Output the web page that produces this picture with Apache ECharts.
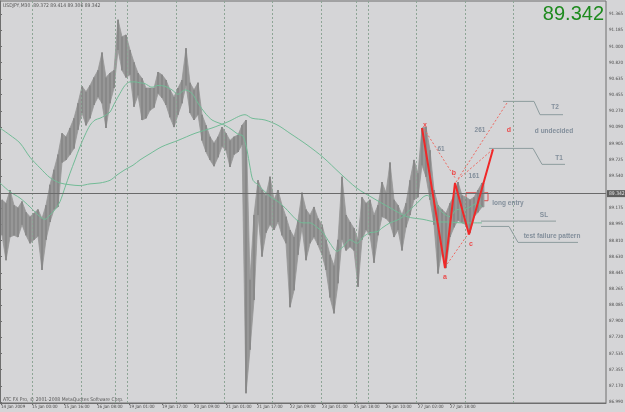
<!DOCTYPE html>
<html>
<head>
<meta charset="utf-8">
<script src="https://cdn.jsdelivr.net/npm/echarts@6/dist/echarts.min.js"></script>
<style>
  html, body { margin: 0; padding: 0; background: #d5d5d7; }
  #chart { width: 625px; height: 412px; }
</style>
</head>
<body>
<div id="chart"></div>
<script>
// USDJPY M30, x = bar number (one bar per pixel), sampled every 4 bars
const barX = [];
for (let i = 0; i <= 480; i += 4) barX.push(i);
const barHigh = [
  89.27, 89.23, 89.38, 89.21, 89.18, 89.25, 89.13, 89.08, 89.12, 89.16,
  89.06, 89.21, 89.44, 89.61, 89.78, 90.02, 89.98, 90.08, 90.19, 90.36,
  90.55, 90.49, 90.56, 90.65, 90.73, 90.93, 90.65, 90.70, 90.73, 91.30,
  91.11, 91.13, 90.96, 90.82, 90.70, 90.64, 90.53, 90.53, 90.53, 90.71,
  90.68, 90.62, 90.51, 90.43, 90.53, 90.62, 90.98, 90.59, 90.51, 90.59,
  90.23, 90.11, 89.98, 89.91, 89.98, 90.09, 90.02, 89.94, 89.98, 90.00,
  90.11, 90.17, 88.37, 89.10, 89.49, 89.38, 89.32, 89.53, 89.27, 89.38,
  89.21, 89.08, 88.93, 88.85, 89.04, 89.35, 89.16, 89.10, 89.19, 89.06,
  88.99, 88.82, 88.65, 88.53, 88.82, 89.53, 89.10, 89.02, 88.95, 88.82,
  89.30, 89.23, 89.27, 89.10, 89.21, 89.47, 89.35, 89.69, 89.27, 89.21,
  89.10, 89.23, 89.49, 89.72, 89.57, 90.08, 90.09, 89.83, 89.38, 89.21,
  89.16, 89.12, 89.23, 89.32, 89.47, 89.32, 89.30, 89.27, 89.30, 89.38,
  89.46
];
const barLow = [
  88.87, 88.59, 88.85, 88.87, 88.85, 88.99, 88.87, 88.78, 88.82, 88.86,
  88.48, 88.82, 89.02, 89.16, 89.19, 89.69, 89.72, 89.78, 89.85, 90.06,
  90.25, 90.11, 90.19, 90.34, 90.43, 90.36, 90.08, 90.36, 90.53, 90.96,
  90.73, 90.65, 90.68, 90.32, 90.45, 90.17, 90.19, 90.28, 90.31, 90.47,
  90.42, 90.34, 90.20, 90.09, 90.23, 90.36, 90.56, 90.25, 90.17, 90.23,
  89.94, 89.81, 89.72, 89.65, 89.75, 89.87, 89.83, 89.64, 89.78, 89.81,
  89.89, 87.09, 87.58, 88.14, 89.10, 88.63, 88.90, 88.99, 88.93, 89.02,
  88.87, 88.78, 88.06, 88.25, 88.65, 88.96, 88.59, 88.78, 88.85, 88.76,
  88.65, 88.48, 88.17, 87.99, 88.33, 88.82, 88.70, 88.74, 88.70, 88.29,
  88.82, 88.93, 88.87, 88.56, 88.87, 89.08, 89.06, 89.01, 88.85, 88.93,
  88.70, 88.96, 89.10, 89.27, 89.30, 89.66, 89.53, 89.27, 88.99, 88.44,
  88.70, 88.50, 88.85, 88.96, 89.04, 89.01, 88.99, 88.90, 89.08, 89.13,
  89.19
];

// moving averages
const fastMaBars = [0, 10, 20, 30, 40, 45, 50, 55, 60, 65, 70, 75, 80, 85, 90, 95, 100, 105, 110, 115,
  120, 125, 130, 135, 140, 145, 152, 158, 165, 172, 178, 185, 192, 198, 205, 212, 218, 225, 232, 238,
  243, 247, 250, 253, 258, 265, 272, 278, 285, 290, 297, 303, 310, 317, 323, 330, 337, 343, 350, 357,
  363, 370, 377, 383, 390, 397, 403, 410, 417, 423, 427, 430, 437, 443, 450, 457, 463, 470, 477, 482];
const fastMa = [89.46, 89.36, 89.29, 89.19, 89.08, 89.05, 89.10, 89.16, 89.25, 89.41, 89.57, 89.72, 89.87, 90.00, 90.11, 90.17, 90.19, 90.22, 90.26, 90.37,
  90.47, 90.56, 90.60, 90.60, 90.59, 90.58, 90.54, 90.56, 90.55, 90.51, 90.46, 90.51, 90.47, 90.36, 90.25, 90.17, 90.14, 90.11, 90.06, 90.01,
  89.99, 89.83, 89.64, 89.49, 89.44, 89.36, 89.29, 89.25, 89.18, 89.12, 89.04, 89.01, 89.01, 88.96, 88.90, 88.78, 88.69, 88.74, 88.82, 88.78,
  88.85, 88.90, 88.91, 88.96, 89.01, 89.04, 89.08, 89.16, 89.23, 89.30, 89.32, 89.30, 89.21, 89.12, 89.08, 89.16, 89.16, 89.19, 89.23, 89.19];
const slowMaBars = [0, 10, 20, 30, 40, 50, 60, 70, 80, 90, 100, 110, 117, 125, 133, 140, 150, 162, 178, 195,
  212, 228, 245, 252, 265, 278, 290, 307, 323, 340, 357, 373, 390, 407, 423, 437, 447, 463, 482];
const slowMa = [90.08, 90.00, 89.91, 89.75, 89.63, 89.52, 89.46, 89.44, 89.43, 89.45, 89.46, 89.49, 89.55, 89.61, 89.66, 89.72, 89.79, 89.87, 89.94, 90.02,
  90.08, 90.15, 90.23, 90.19, 90.17, 90.11, 90.02, 89.89, 89.75, 89.57, 89.40, 89.29, 89.18, 89.08, 89.05, 89.02, 89.02, 89.01, 89.01];

// day separators (bar numbers) and time axis
const daySeparators = [32, 81, 115, 127, 176, 224, 272, 321, 356, 368, 416, 465, 513];
const timeTickBars = [1, 32, 64, 97, 129, 162, 194, 226, 257, 290, 322, 354, 386, 418, 450];
const timeTickLabels = ['14 Jan 2009', '15 Jan 00:00', '15 Jan 16:00', '16 Jan 08:00', '19 Jan 01:00',
  '19 Jan 17:00', '20 Jan 09:00', '21 Jan 01:00', '21 Jan 17:00', '22 Jan 09:00', '23 Jan 01:00',
  '25 Jan 18:00', '26 Jan 10:00', '27 Jan 02:00', '27 Jan 18:00'];
const priceTicks = [86.990, 87.170, 87.355, 87.535, 87.720, 87.900, 88.085, 88.265, 88.445, 88.630,
  88.810, 88.995, 89.175, 89.540, 89.725, 89.905, 90.090, 90.270, 90.455, 90.635, 90.820, 91.000,
  91.185, 91.365];
const lastPrice = 89.342;

// harmonic pattern x-a-b-c-d
const patternBars = [422, 445, 455, 469, 493];
const patternPrices = [90.08, 88.50, 89.46, 88.88, 89.84];
const patternNames = ['x', 'a', 'b', 'c', 'd'];
const patternLabelBars = [425, 445, 454, 471, 509];
const patternLabelPrices = [90.11, 88.40, 89.57, 88.77, 90.06];
// dotted ratio lines: [bar1, price1, bar2, price2]
const ratioLines = [
  [424, 90.07, 455, 89.52],
  [445, 88.51, 469, 88.90],
  [456, 89.47, 508, 90.38],
  [458, 89.50, 494, 89.85]
];
const ratioNames = ['61', '161', '261'];
const ratioBars = [441, 474, 480];
const ratioPrices = [89.84, 89.54, 90.05];

// hand drawn trend lines and notes
const t2Line = [[503, 90.38], [534, 90.38], [540, 90.23], [563, 90.23]];
const t1Line = [[489, 89.85], [533, 89.85], [542, 89.67], [565, 89.67]];
const slLine = [[481, 89.03], [556, 89.03]];
const failLine = [[481, 88.97], [509, 88.97], [518, 88.79], [578, 88.79]];
const entryBox = [[466, 89.35], [488, 89.26]];
const noteNames = ['T2', 'd undecided', 'T1', 'long entry', 'SL', 'test failure pattern'];
const noteBars = [555, 554, 559, 508, 544, 552];
const notePrices = [90.31, 90.04, 89.74, 89.23, 89.10, 88.86];

const smallFont = "'Liberation Sans Narrow', 'DejaVu Sans Condensed', 'Liberation Sans', sans-serif";
const noteColor = '#6e7d8c';
const red = '#f02828';
const bandGray = '#979797';
const barGray = '#858585';

const chart = echarts.init(document.getElementById('chart'));

const lineSeries = (data, color, width, type) => ({
  type: 'line',
  data: data,
  symbol: 'none',
  silent: true,
  z: 4,
  lineStyle: { color: color, width: width, type: type || 'solid' }
});

const series = [
  {
    type: 'line',
    data: [],
    z: 1,
    silent: true,
    markLine: {
      symbol: ['none', 'none'],
      silent: true,
      animation: false,
      label: { show: false },
      lineStyle: { color: '#8ea596', type: [2, 2], width: 1 },
      data: daySeparators.map(b => ({ xAxis: b }))
    }
  },
  {
    // high-low band, each sample joined to the next, plus the sample's own bar
    type: 'custom',
    z: 2,
    silent: true,
    data: barX.map((x, i) => [x, barLow[i], barHigh[i]]),
    encode: { x: 0, y: [1, 2] },
    renderItem: function (params, api) {
      const i = params.dataIndex;
      const j = Math.min(i + 1, barX.length - 1);
      const x1 = barX[i] + 2;
      const x2 = j === i ? x1 + 2 : barX[j] + 2;
      const top = api.coord([x1, barHigh[i]]);
      const bottom = api.coord([x1, barLow[i]]);
      return {
        type: 'group',
        children: [
          {
            type: 'polygon',
            shape: {
              points: [top, api.coord([x2, barHigh[j]]), api.coord([x2, barLow[j]]), bottom]
            },
            style: { fill: bandGray, stroke: bandGray, lineWidth: 0.8 }
          },
          {
            type: 'line',
            shape: { x1: top[0], y1: top[1], x2: bottom[0], y2: bottom[1] },
            style: { stroke: barGray, lineWidth: 1.5 }
          }
        ]
      };
    }
  },
  Object.assign(lineSeries(fastMaBars.map((b, i) => [b, fastMa[i]]), '#72bb96', 1), { smooth: 0.3, z: 3 }),
  Object.assign(lineSeries(slowMaBars.map((b, i) => [b, slowMa[i]]), '#72bb96', 1), { smooth: 0.3, z: 3 }),
  {
    type: 'line',
    data: [],
    z: 3,
    silent: true,
    markLine: {
      symbol: ['none', 'none'],
      silent: true,
      animation: false,
      lineStyle: { color: '#6a6a6a', type: 'solid', width: 1 },
      label: {
        show: true,
        position: 'end',
        distance: 1,
        formatter: () => lastPrice.toFixed(3),
        backgroundColor: '#5e5e5e',
        color: '#e0e0e0',
        fontSize: 5,
        fontFamily: smallFont,
        padding: [1, 2]
      },
      data: [{ yAxis: lastPrice }]
    }
  }
];

ratioLines.forEach(l => {
  series.push(lineSeries([[l[0], l[1]], [l[2], l[3]]], '#ee6a62', 1, [2, 2]));
});
[t2Line, t1Line, slLine, failLine].forEach(l => {
  series.push(lineSeries(l, '#8d9c9e', 1));
});

const pattern = lineSeries(patternBars.map((b, i) => [b, patternPrices[i]]), red, 2);
pattern.z = 5;
pattern.markArea = {
  silent: true,
  itemStyle: { color: 'rgba(0,0,0,0)', borderColor: '#e05050', borderWidth: 1 },
  data: [[{ coord: entryBox[0] }, { coord: entryBox[1] }]]
};
series.push(pattern);

const textSeries = (names, bars, prices, color, size) => ({
  type: 'scatter',
  silent: true,
  z: 6,
  symbolSize: 1,
  itemStyle: { color: 'rgba(0,0,0,0)' },
  data: names.map((n, i) => ({ name: n, value: [bars[i], prices[i]] })),
  label: {
    show: true,
    position: 'inside',
    formatter: p => p.name,
    color: color,
    fontSize: size,
    fontWeight: 'bold',
    fontFamily: 'Liberation Sans, Arial, sans-serif'
  }
});
series.push(textSeries(patternNames, patternLabelBars, patternLabelPrices, red, 7));
series.push(textSeries(ratioNames, ratioBars, ratioPrices, noteColor, 6.5));
series.push(textSeries(noteNames, noteBars, notePrices, noteColor, 6.5));

chart.setOption({
  animation: false,
  backgroundColor: '#d5d5d7',
  title: [
    {
      text: 'USDJPY,M30  89.372 89.414 89.306 89.342',
      left: 3, top: 3, padding: 0,
      textStyle: { fontSize: 5, fontWeight: 'normal', color: '#555', fontFamily: smallFont }
    },
    {
      text: lastPrice.toFixed(3),
      right: 21, top: 4, padding: 0,
      textStyle: { fontSize: 20, fontWeight: 'normal', color: '#1e8a1e', fontFamily: 'Liberation Sans, Arial, sans-serif' }
    },
    {
      text: 'ATC FX Pro, © 2001-2008 MetaQuotes Software Corp.',
      left: 3, top: 397, padding: 0,
      textStyle: { fontSize: 5, fontWeight: 'normal', color: '#555', fontFamily: smallFont }
    }
  ],
  grid: {
    left: 0, right: 19, top: 1, bottom: 9,
    outerBoundsMode: 'none',
    containLabel: false,
    show: true, borderColor: '#6e6e6e', borderWidth: 1
  },
  xAxis: {
    type: 'value',
    min: 0,
    max: 606,
    splitLine: { show: false },
    axisLine: { lineStyle: { color: '#6e6e6e' } },
    axisTick: { show: true, customValues: timeTickBars, length: 2, lineStyle: { color: '#6e6e6e' } },
    axisLabel: {
      customValues: timeTickBars,
      formatter: v => timeTickLabels[timeTickBars.indexOf(v)] || '',
      align: 'left',
      margin: 1,
      hideOverlap: false,
      fontSize: 4.5,
      color: '#4a4a4a',
      fontFamily: smallFont
    }
  },
  yAxis: {
    type: 'value',
    position: 'right',
    min: 86.979,
    max: 91.512,
    splitLine: { show: false },
    axisLine: { show: true, lineStyle: { color: '#6e6e6e' } },
    axisTick: { show: true, customValues: priceTicks, length: 2, lineStyle: { color: '#6e6e6e' } },
    axisLabel: {
      customValues: priceTicks,
      formatter: v => v.toFixed(3),
      margin: 3,
      hideOverlap: false,
      fontSize: 4.5,
      color: '#4a4a4a',
      fontFamily: smallFont
    }
  },
  series: series
});
</script>
</body>
</html>
